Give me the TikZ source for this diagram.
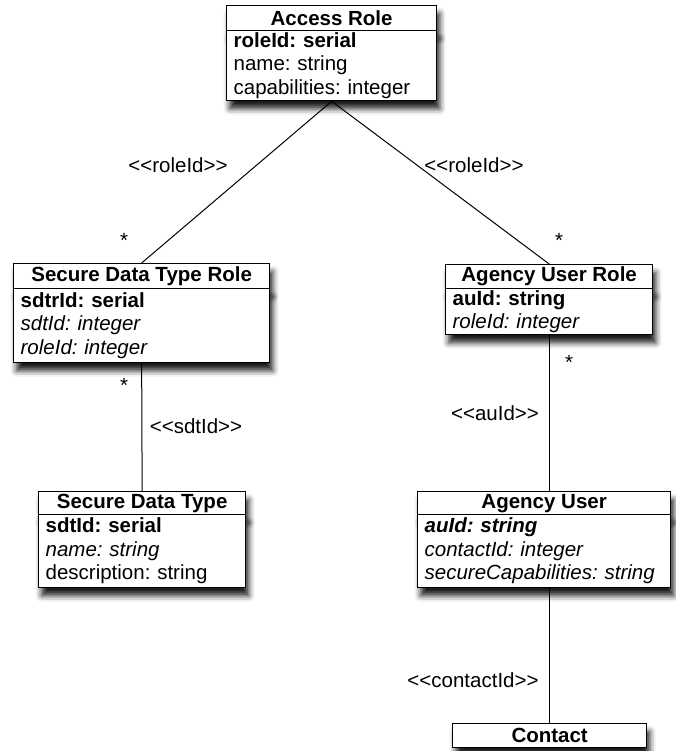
\documentclass[tikz,border=0pt]{standalone}
\usepackage{fontspec}
\setmainfont{Liberation Sans}
\usetikzlibrary{shadows.blur}
\frenchspacing
\begin{document}
\begin{tikzpicture}[x=1pt,y=-1pt,
  every node/.style={font=\fontsize{20.5}{23.5}\selectfont},
  cls/.style={draw=black, line width=1.3pt, fill=white, inner sep=0pt,
    blur shadow={shadow xshift=3pt, shadow yshift=-8pt, shadow blur radius=6pt, shadow opacity=90}},
  hdr/.style={cls, anchor=north west, font=\fontsize{20.5}{23.5}\selectfont\bfseries},
  body/.style={cls, anchor=north west, align=left, inner xsep=7pt},
  conn/.style={draw=black, line width=1pt},
  lbl/.style={inner sep=0pt}]
\useasboundingbox (0,0) rectangle (676,751);

% Access Role
\node[hdr, minimum width=210pt, minimum height=25pt] (ar) at (226,5) {Access Role};
\node[body, text width=196pt, minimum height=70pt] (arb) at (226,30)
  {\textbf{roleId: serial}\\name: string\\capabilities: integer};

% Secure Data Type Role
\node[hdr, minimum width=256pt, minimum height=25pt] (sdtr) at (13,263) {Secure Data Type Role};
\node[body, text width=242pt, minimum height=74pt] (sdtrb) at (13,288)
  {\textbf{sdtrId: serial}\\\textit{sdtId: integer}\\\textit{roleId: integer}};

% Agency User Role
\node[hdr, minimum width=207pt, minimum height=24pt] (aur) at (445,264) {Agency User Role};
\node[body, text width=193pt, minimum height=46pt] (aurb) at (445,288)
  {\textbf{auId: string}\\\textit{roleId: integer}};

% Secure Data Type
\node[hdr, minimum width=207pt, minimum height=23pt] (sdt) at (38,491) {Secure Data Type};
\node[body, text width=193pt, minimum height=73pt] (sdtb) at (38,514)
  {\textbf{sdtId: serial}\\\textit{name: string}\\description: string};

% Agency User
\node[hdr, minimum width=253pt, minimum height=23pt] (au) at (417,491) {Agency User};
\node[body, text width=239pt, minimum height=73pt] (aub) at (417,514)
  {\textbf{\textit{auId: string}}\\\textit{contactId: integer}\\\textit{secureCapabilities: string}};

% Contact
\node[hdr, minimum width=194pt, minimum height=24pt] (cont) at (452,723) {Contact};

% connectors
\draw[conn] (arb.south) -- (sdtr.north);
\draw[conn] (arb.south) -- (aur.north);
\draw[conn] (sdtrb.south) -- (sdt.north);
\draw[conn] (aurb.south) -- (aurb.south |- au.north);
\draw[conn] (cont.north |- aub.south) -- (cont.north);

% labels
\node[lbl] (l1) at (178,165) {<{}<roleId>{}>};
\node[lbl] (l2) at (474,165) {<{}<roleId>{}>};
\node[lbl] (s1) at (124,240) {*};
\node[lbl] (s2) at (559,240) {*};
\node[lbl] (s3) at (124,385) {*};
\node[lbl] (s4) at (569,362) {*};
\node[lbl] (l3) at (196,426) {<{}<sdtId>{}>};
\node[lbl] (l4) at (495,413) {<{}<auId>{}>};
\node[lbl] (l5) at (473,680) {<{}<contactId>{}>};
\end{tikzpicture}
\end{document}
